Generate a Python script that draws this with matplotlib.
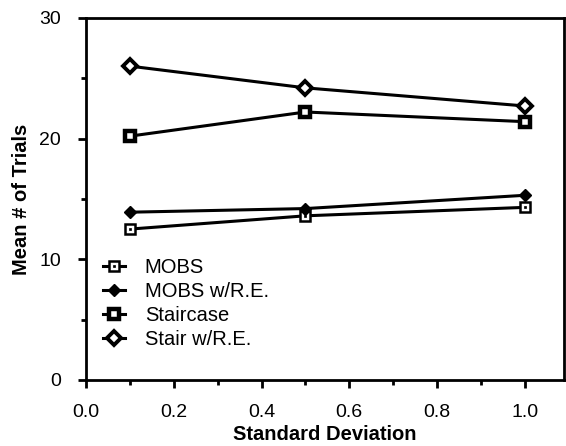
import matplotlib
matplotlib.use("Agg")
import matplotlib.pyplot as plt
from matplotlib.ticker import MultipleLocator
from matplotlib.legend_handler import HandlerTuple

plt.rcParams['font.family'] = ['Liberation Sans', 'DejaVu Sans']

sd = [0.1, 0.5, 1.0]
mobs = [12.5, 13.6, 14.3]
mobs_re = [13.9, 14.2, 15.3]
staircase = [20.2, 22.2, 21.4]
stair_re = [26.0, 24.2, 22.7]
labels = ["MOBS", "MOBS w/R.E.", "Staircase", "Stair w/R.E."]
xticks = [0.0, 0.2, 0.4, 0.6, 0.8, 1.0]
xticklabels = ["0.0", "0.2", "0.4", "0.6", "0.8", "1.0"]
yticks = [0, 10, 20, 30]

fig = plt.figure(figsize=(5.66, 4.46), dpi=100)
ax = fig.add_axes([0.152, 0.148, 0.845, 0.812])

lw = 2.2
l1, = ax.plot(sd, mobs, color='black', lw=lw, marker='s', ms=6.8, mfc='white', mec='black', mew=1.8)
d1, = ax.plot(sd, mobs, ls='none', marker='s', ms=1.8, mfc='black', mec='black', mew=0.5)
l2, = ax.plot(sd, mobs_re, color='black', lw=lw, marker='D', ms=6.5, mfc='black', mec='black')
l3, = ax.plot(sd, staircase, color='black', lw=lw, marker='s', ms=7, mfc='white', mec='black', mew=3.2)
l4, = ax.plot(sd, stair_re, color='black', lw=lw, marker='D', ms=6.8, mfc='white', mec='black', mew=2.8)

ax.set_xlim(0, 1.09)
ax.set_ylim(0, 30)
ax.set_xticks(xticks)
ax.set_xticklabels(xticklabels)
ax.set_yticks(yticks)
ax.xaxis.set_minor_locator(MultipleLocator(0.1))
ax.yaxis.set_minor_locator(MultipleLocator(5))
ax.tick_params(which='major', direction='out', length=6, width=2, labelsize=14)
ax.tick_params(axis='x', which='major', pad=11)
ax.tick_params(axis='y', which='major', pad=12)
ax.tick_params(which='minor', direction='out', length=3.5, width=2)
for s in ax.spines.values():
    s.set_linewidth(2)

ax.set_xlabel("Standard Deviation", fontsize=14.5, fontweight='bold', labelpad=3)
ax.set_ylabel("Mean # of Trials", fontsize=14.5, fontweight='bold')
ax.yaxis.set_label_coords(-0.115, 0.5)

ax.legend([(l1, d1), l2, l3, l4], labels, handler_map={tuple: HandlerTuple(ndivide=1)},
          loc='lower left', bbox_to_anchor=(0.005, 0.047), frameon=False,
          fontsize=14.5, handlelength=1.1, handletextpad=1.0, labelspacing=0.25,
          borderaxespad=0.3)

fig.savefig("out.png", dpi=100)
